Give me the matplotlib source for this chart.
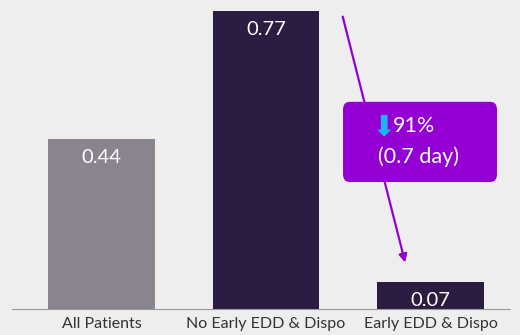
import matplotlib.pyplot as plt
from matplotlib.patches import FancyBboxPatch

categories = ["All Patients", "No Early EDD & Dispo", "Early EDD & Dispo"]
values = [0.44, 0.77, 0.07]
bar_colors = ["#8a848f", "#2b1d42", "#2b1d42"]
callout_pct = "91%"
callout_days = "(0.7 day)"

plt.rcParams['font.family'] = ['Lato', 'DejaVu Sans']

fig = plt.figure(figsize=(5.2, 3.35), dpi=100, facecolor="#eeeeee")
ax = fig.add_axes([12 / 520, 26 / 335, 498 / 520, 309 / 335])
ax.set_facecolor("#eeeeee")

x = range(len(categories))
bars = ax.bar(x, values, width=0.65, color=bar_colors, zorder=2)
for b, v in zip(bars, values):
    ax.text(b.get_x() + b.get_width() / 2, v - 0.048, f"{v:.2f}",
            ha="center", va="center", color="white", fontsize=14.5, zorder=3)

ax.set_xlim(-0.544, 2.483)
ax.set_ylim(0, 0.798)
ax.set_xticks(list(x))
ax.set_xticklabels(categories, fontsize=11.5, color="#333333")
ax.tick_params(axis="x", length=0, pad=6)
ax.set_yticks([])
for s in ["top", "right", "left"]:
    ax.spines[s].set_visible(False)
ax.spines["bottom"].set_color("#999999")

# arrow from tall bar to short bar
ax.annotate("", xy=(1.85, 0.113), xytext=(1.462, 0.762),
            arrowprops=dict(arrowstyle="-|>", color="#9400d3", lw=1.6,
                            mutation_scale=12), zorder=3)

box = FancyBboxPatch((1.468, 0.328), 0.936, 0.207,
                     boxstyle="round,pad=0,rounding_size=0.04",
                     mutation_aspect=0.5, fc="#9400d3", ec="none", zorder=4)
ax.add_patch(box)
ax.text(1.71, 0.47, "\u2b07", ha="center", va="center", color="#1eb4f0",
        fontsize=21, family="DejaVu Sans", zorder=5)
ax.text(1.77, 0.473, callout_pct, ha="left", va="center", color="white",
        fontsize=15.5, zorder=5)
ax.text(1.924, 0.393, callout_days, ha="center", va="center", color="white",
        fontsize=15.5, zorder=5)

fig.savefig("out.png", dpi=100, facecolor=fig.get_facecolor())
